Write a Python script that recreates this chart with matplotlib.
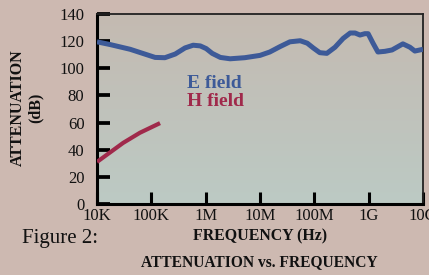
import numpy as np
import matplotlib
matplotlib.use("Agg")
import matplotlib.pyplot as plt
from matplotlib.colors import LinearSegmentedColormap

# Data (log10 of frequency in Hz, attenuation in dB)
e_logf = [4.00, 4.24, 4.61, 5.07, 5.25, 5.44, 5.62, 5.77, 5.90, 6.01, 6.12, 6.27,
          6.45, 6.72, 7.00, 7.18, 7.37, 7.55, 7.74, 7.87, 7.98, 8.10, 8.23, 8.38,
          8.53, 8.66, 8.75, 8.84, 8.93, 8.99, 9.08, 9.17, 9.30, 9.43, 9.63, 9.76,
          9.85, 10.0]
e_db = [119.5, 117.5, 114, 108, 107.8, 110.5, 115, 117, 116.5, 114.5, 111, 108,
        107, 107.8, 109.5, 112, 116, 119.5, 120.3, 118.5, 115, 111.5, 111, 115.5,
        122, 126, 126, 124.5, 125.5, 125.5, 118.5, 112, 112.5, 113.5, 118, 115.5,
        112.7, 114]
h_logf = [4.00, 4.24, 4.48, 4.79, 5.16]
h_db = [31, 38, 45, 52.5, 59.6]

x_ticks = [1e4, 1e5, 1e6, 1e7, 1e8, 1e9, 1e10]
x_labels = ["10K", "100K", "1M", "10M", "100M", "1G", "10G"]
y_ticks = [0, 20, 40, 60, 80, 100, 120, 140]

E_COLOR = "#3d5a98"
H_COLOR = "#a0294b"
FIG_BG = "#cdb9b1"

plt.rcParams['font.family'] = ['Liberation Serif', 'DejaVu Serif']

fig = plt.figure(figsize=(4.29, 2.75), dpi=100, facecolor=FIG_BG)
ax = fig.add_axes([97/429, 1-204/275, (423-97)/429, (204-14)/275])

# gradient background
cmap = LinearSegmentedColormap.from_list("bg", ["#c4bab1", "#c0c2bb", "#bccac4"])
grad = np.linspace(0, 1, 256).reshape(-1, 1)
ax.imshow(grad, aspect="auto", cmap=cmap, extent=[0, 1, 0, 1],
          transform=ax.transAxes, zorder=0)

ax.plot(10 ** np.array(e_logf), e_db, color=E_COLOR, lw=3.6,
        solid_capstyle="butt", zorder=3)
ax.plot(10 ** np.array(h_logf), h_db, color=H_COLOR, lw=3.0,
        solid_capstyle="butt", zorder=3)

ax.set_xscale("log")
ax.set_xlim(1e4, 1e10)
ax.set_ylim(0, 140)
ax.set_xticks(x_ticks)
ax.set_xticklabels(x_labels)
ax.xaxis.set_minor_locator(matplotlib.ticker.NullLocator())
ax.set_yticks(y_ticks)

ax.tick_params(axis="both", direction="in", length=9, width=2.7, color="black",
               labelsize=12, labelcolor="#111111")
ax.tick_params(axis="x", pad=3, width=2.2)
ax.tick_params(axis="y", pad=9)

for side in ["left", "bottom"]:
    ax.spines[side].set_linewidth(2.2)
for side in ["top", "right"]:
    ax.spines[side].set_linewidth(1.3)
    ax.spines[side].set_color("#222222")

ax.text(90/326, 1-(83-14)/190, "E field", transform=ax.transAxes, color=E_COLOR,
        fontsize=14, fontweight="bold", ha="left", va="center")
ax.text(90/326, 1-(102-14)/190, "H field", transform=ax.transAxes, color=H_COLOR,
        fontsize=14, fontweight="bold", ha="left", va="center")

fig.text(18/429, 1-108/275, "ATTENUATION", rotation=90, fontsize=11.5,
         fontweight="bold", ha="center", va="center", color="#111111")
fig.text(36/429, 1-108/275, "(dB)", rotation=90, fontsize=11.5,
         fontweight="bold", ha="center", va="center", color="#111111")

fig.text(260/429, 1-236/275, "FREQUENCY (Hz)", fontsize=11.4, fontweight="bold",
         ha="center", va="center", color="#111111")
fig.text(60/429, 1-239/275, "Figure 2:", fontsize=15, ha="center", va="center",
         color="#111111")
fig.text(259/429, 1-262/275, "ATTENUATION vs. FREQUENCY", fontsize=11.2,
         fontweight="bold", ha="center", va="center", color="#111111")

fig.savefig("out.png", dpi=100, facecolor=FIG_BG)
